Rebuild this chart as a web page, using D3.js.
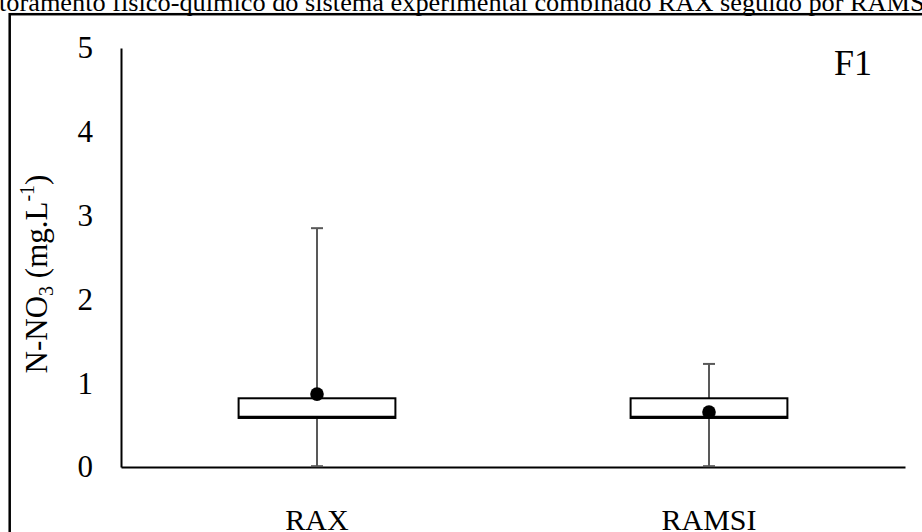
<!DOCTYPE html>
<html>
<head>
<meta charset="utf-8">
<script src="https://cdn.jsdelivr.net/npm/d3@7"></script>
<style>
  html, body { margin: 0; padding: 0; background: #fff; overflow: hidden; }
  svg { display: block; }
  text { font-family: "Liberation Serif", "Times New Roman", serif; fill: #000; }
</style>
</head>
<body>
<svg id="chart" width="922" height="532"></svg>
<script>
// Box-plot summary per reactor (N-NO3, mg/L)
const categories = ["RAX", "RAMSI"];
const minValues    = [0.01, 0.01];
const q1Values     = [0.585, 0.585];
const medianValues = [0.60, 0.60];
const q3Values     = [0.82, 0.82];
const maxValues    = [2.85, 1.23];
const meanValues   = [0.87, 0.655];
const yTicks = [0, 1, 2, 3, 4, 5];

const titleText = "Monitoramento físico-químico do sistema experimental combinado RAX seguido por RAMSI";
const panelLabel = "F1";

const svg = d3.select("#chart");

// caption line running along the top edge
const title = svg.append("text")
  .attr("font-size", 25)
  .text(titleText);
const tNode = title.node();
const startIdx = titleText.indexOf("toramento");
const x0 = tNode.getStartPositionOfChar(startIdx).x;
const x1 = tNode.getEndPositionOfChar(titleText.length - 2).x;
const sx = (925 - (-1)) / (x1 - x0);
title.attr("transform", `translate(${-1 - x0 * sx},11) scale(${sx},1)`);

// outer frame of the figure panel
svg.append("rect")
  .attr("x", 9.7).attr("y", 14.2)
  .attr("width", 1000).attr("height", 1000)
  .attr("fill", "none").attr("stroke", "#000").attr("stroke-width", 2.5);

const plot = { left: 121, right: 905, top: 48, bottom: 467 };

const x = d3.scaleBand().domain(categories).range([plot.left, plot.right]).padding(0);
const y = d3.scaleLinear().domain([0, 5]).range([plot.bottom, plot.top]);

// y axis: line + labels, no tick marks
const yAxis = d3.axisLeft(y).tickValues(yTicks).tickSize(0).tickPadding(28).tickFormat(d3.format("d"));
const gy = svg.append("g").attr("transform", `translate(${plot.left},0)`).call(yAxis);
gy.select(".domain").attr("stroke", "#000").attr("stroke-width", 2);
gy.selectAll("text").attr("font-size", 31).attr("font-family", "Liberation Serif");

// x axis
const xAxis = d3.axisBottom(x).tickSize(0).tickPadding(42);
const gx = svg.append("g").attr("transform", `translate(0,${plot.bottom})`).call(xAxis);
gx.select(".domain").attr("stroke", "#000").attr("stroke-width", 2);
gx.selectAll("text").attr("font-size", 30).attr("font-family", "Liberation Serif");

// y axis title
const yl = svg.append("text")
  .attr("transform", "translate(47,274) rotate(-90)")
  .attr("text-anchor", "middle")
  .attr("font-size", 31);
yl.append("tspan").text("N-NO");
yl.append("tspan").attr("font-size", 20).attr("dy", 6).text("3");
yl.append("tspan").attr("dy", -6).text(" (mg.L");
yl.append("tspan").attr("font-size", 20).attr("dy", -13).text("-1");
yl.append("tspan").attr("dy", 13).text(")");

// panel label
svg.append("text").attr("x", 834).attr("y", 75).attr("font-size", 36).text(panelLabel);

// boxes
const data = categories.map((c, i) => ({
  c, min: minValues[i], q1: q1Values[i], med: medianValues[i],
  q3: q3Values[i], max: maxValues[i], mean: meanValues[i]
}));
const boxW = x.bandwidth() * 0.40;
const capW = 12;
const whiskerColor = "#595959";

const g = svg.append("g");
const box = g.selectAll("g.box").data(data).join("g").attr("class", "box")
  .attr("transform", d => `translate(${x(d.c) + x.bandwidth() / 2},0)`);

// whiskers
box.append("line").attr("x1", 0).attr("x2", 0)
  .attr("y1", d => y(d.q3)).attr("y2", d => y(d.max))
  .attr("stroke", whiskerColor).attr("stroke-width", 2);
box.append("line").attr("x1", 0).attr("x2", 0)
  .attr("y1", d => y(d.q1)).attr("y2", d => y(d.min))
  .attr("stroke", whiskerColor).attr("stroke-width", 2);
box.append("line").attr("x1", -capW / 2).attr("x2", capW / 2)
  .attr("y1", d => y(d.max)).attr("y2", d => y(d.max))
  .attr("stroke", whiskerColor).attr("stroke-width", 2);
box.append("line").attr("x1", -capW / 2).attr("x2", capW / 2)
  .attr("y1", d => y(d.min)).attr("y2", d => y(d.min))
  .attr("stroke", whiskerColor).attr("stroke-width", 2);

// interquartile box
box.append("rect")
  .attr("x", -boxW / 2).attr("width", boxW)
  .attr("y", d => y(d.q3)).attr("height", d => y(d.q1) - y(d.q3))
  .attr("fill", "#fff").attr("stroke", "#000").attr("stroke-width", 2);

// median
box.append("line").attr("x1", -boxW / 2).attr("x2", boxW / 2)
  .attr("y1", d => y(d.med)).attr("y2", d => y(d.med))
  .attr("stroke", "#000").attr("stroke-width", 2);

// mean marker
box.append("circle").attr("cx", 0).attr("cy", d => y(d.mean)).attr("r", 6.8).attr("fill", "#000");
</script>
</body>
</html>
